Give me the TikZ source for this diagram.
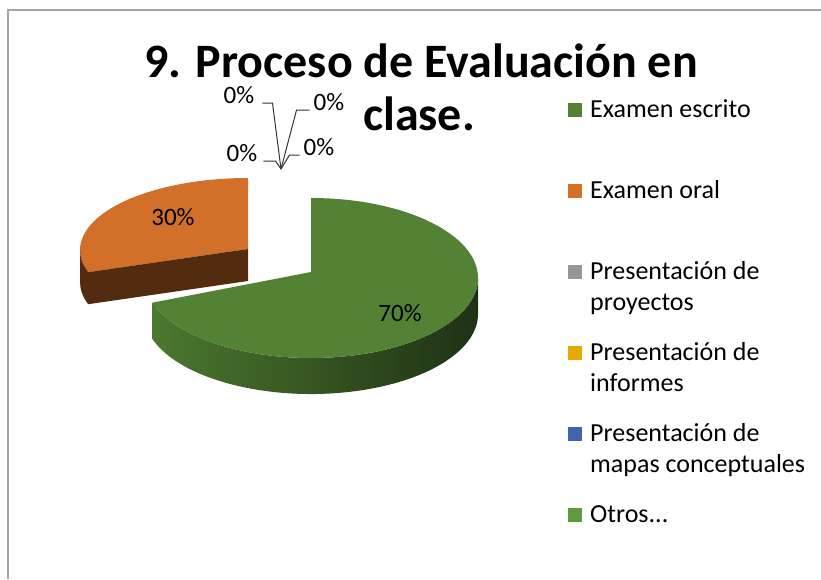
\documentclass[tikz,border=0pt]{standalone}
\usepackage{fontspec}
\setmainfont{Carlito}
\usetikzlibrary{positioning}

\definecolor{escrito}{RGB}{83,130,53}
\definecolor{escritoside}{RGB}{76,120,47}
\definecolor{escritodark}{RGB}{31,49,21}
\definecolor{oral}{RGB}{210,112,42}
\definecolor{oralside}{RGB}{83,44,16}
\definecolor{proyectos}{RGB}{150,150,150}
\definecolor{informes}{RGB}{228,170,0}
\definecolor{mapas}{RGB}{62,102,176}
\definecolor{otros}{RGB}{96,154,60}
\definecolor{marco}{RGB}{165,165,165}

\tikzstyle{titulo} = [font=\fontsize{48}{53}\selectfont\bfseries, anchor=base, inner sep=0pt]
\tikzstyle{pct} = [font=\fontsize{25}{31}\selectfont, inner sep=1pt, anchor=base]
\tikzstyle{legtext} = [font=\fontsize{26}{31}\selectfont, align=left, inner sep=0pt, anchor=base west]
\tikzstyle{legsq} = [rectangle, minimum size=14pt, inner sep=0pt]
\tikzstyle{leader} = [line width=1pt, black!80]

\begin{document}
\begin{tikzpicture}[x=1pt, y=1pt]

\useasboundingbox (0,0) rectangle (821,-579);
\draw[marco, line width=1.5pt] (8,-579) -- (8,-10) -- (821,-10);

\fill[oral] (248,-249) -- (248,-178) arc[start angle=90, end angle=198, x radius=168, y radius=72] -- cycle;
\fill[oralside] (248,-249) -- (88.2,-272.2) -- ++(0,-32) -- (248,-281) -- cycle;
\fill[oralside] (80,-250) arc[start angle=180, end angle=198, x radius=168, y radius=72] -- ++(0,-32) arc[start angle=198, end angle=180, x radius=168, y radius=72] -- cycle;

\shade[left color=escritoside, right color=escritodark] (478,-278) arc[start angle=0, end angle=-162, x radius=167, y radius=80] -- ++(0,-36) arc[start angle=-162, end angle=0, x radius=167, y radius=80] -- cycle;
\fill[escrito] (311,-272) -- (311,-198) arc[start angle=90, end angle=-162, x radius=167, y radius=80] -- cycle;

\node (title) [titulo] at (421,-77) {9. Proceso de Evaluación en};
\node (titleB) [titulo] at (419,-130) {clase.};

\node (pOral) [pct] at (173,-225) {30\%};
\node (pEscrito) [pct] at (400,-321) {70\%};

\coordinate (apex) at (281,-169);
\node (pProy) [pct] at (239,-103) {0\%};
\node (pInf) [pct] at (329,-110) {0\%};
\node (pMapas) [pct] at (242,-161) {0\%};
\node (pOtros) [pct] at (319,-155) {0\%};

\draw[leader] (pProy.base east) ++(7,0) -- ++(10,0) -- (apex);
\draw[leader] (pInf.base west) ++(-3,0) -- ++(-13,0) -- (apex);
\draw[leader] (pMapas.base east) ++(5,0) -- ++(12,0) -- (apex);
\draw[leader] (pOtros.base west) ++(-3,0) -- ++(-10,0) -- (apex);

\node (tEscrito) [legtext] at (590,-117) {Examen escrito};
\node (tOral) [legtext] at (590,-198) {Examen oral};
\node (tProy) [legtext] at (590,-310) {Presentación de\\proyectos};
\node (tInf) [legtext] at (590,-391) {Presentación de\\informes};
\node (tMapas) [legtext] at (590,-472) {Presentación de\\mapas conceptuales};
\node (tOtros) [legtext] at (590,-522) {Otros...};

\node (sqEscrito) [legsq, fill=escrito, left=8pt of tEscrito.base west, yshift=7.5pt] {};
\node (sqOral) [legsq, fill=oral, left=8pt of tOral.base west, yshift=7.5pt] {};
\node (sqProy) [legsq, fill=proyectos, left=8pt of tProy.base west, yshift=38.5pt] {};
\node (sqInf) [legsq, fill=informes, left=8pt of tInf.base west, yshift=38.5pt] {};
\node (sqMapas) [legsq, fill=mapas, left=8pt of tMapas.base west, yshift=38.5pt] {};
\node (sqOtros) [legsq, fill=otros, left=8pt of tOtros.base west, yshift=7.5pt] {};

\end{tikzpicture}
\end{document}
